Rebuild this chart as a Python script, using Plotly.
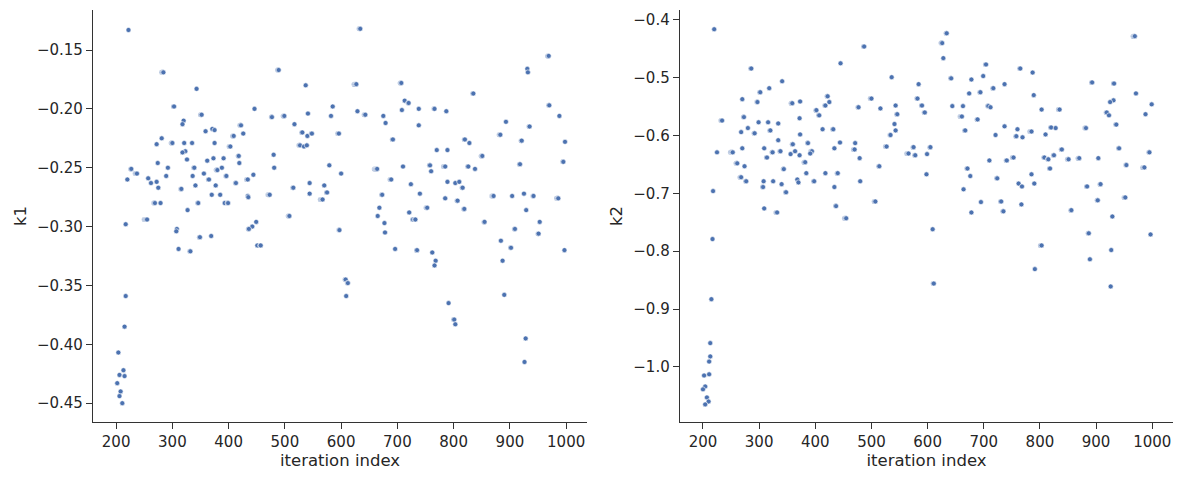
import plotly.graph_objects as go

# k1: (end iteration, value, run length)
k1_iter = [222,284,343,303,320,318,352,446,359,371,375,422,426,409,281,272,300,321,335,375,403,323,318,326,362,373,391,418,419,274,292,339,227,237,220,257,262,272,275,289,336,356,365,380,388,396,341,377,413,434,444,316,370,385,434,435,269,279,346,327,393,399,255,217,449,442,436,308,307,369,349,311,332,451,217,215,204,213,206,215,202,208,206,211,
           634,489,537,627,707,713,720,477,499,541,585,582,629,643,675,679,708,517,531,540,548,596,692,527,534,539,480,481,579,600,664,689,710,724,515,544,570,575,544,473,567,673,668,665,677,678,721,728,508,597,457,696,608,612,609,
           969,931,932,835,738,766,787,970,988,738,893,935,883,921,998,820,828,770,789,851,758,785,760,826,838,918,995,740,789,803,810,816,785,807,871,904,925,942,986,753,732,819,929,855,953,909,951,884,902,997,735,762,768,766,887,890,791,801,803,928,926]
k1_val = [-0.133,-0.169,-0.183,-0.198,-0.210,-0.213,-0.205,-0.200,-0.219,-0.217,-0.218,-0.214,-0.221,-0.223,-0.225,-0.230,-0.229,-0.229,-0.229,-0.229,-0.232,-0.236,-0.237,-0.243,-0.244,-0.242,-0.242,-0.240,-0.246,-0.246,-0.250,-0.250,-0.251,-0.255,-0.260,-0.259,-0.263,-0.262,-0.267,-0.257,-0.257,-0.255,-0.260,-0.252,-0.250,-0.257,-0.265,-0.265,-0.263,-0.260,-0.256,-0.268,-0.273,-0.273,-0.274,-0.275,-0.280,-0.280,-0.280,-0.286,-0.280,-0.280,-0.294,-0.298,-0.296,-0.300,-0.302,-0.302,-0.304,-0.308,-0.309,-0.319,-0.321,-0.316,-0.359,-0.385,-0.407,-0.422,-0.426,-0.427,-0.433,-0.440,-0.444,-0.450,
          -0.132,-0.167,-0.180,-0.179,-0.178,-0.193,-0.195,-0.207,-0.206,-0.204,-0.198,-0.206,-0.202,-0.205,-0.206,-0.212,-0.201,-0.213,-0.220,-0.223,-0.221,-0.221,-0.226,-0.231,-0.232,-0.231,-0.239,-0.250,-0.248,-0.255,-0.251,-0.260,-0.249,-0.264,-0.267,-0.263,-0.265,-0.271,-0.272,-0.273,-0.277,-0.273,-0.284,-0.291,-0.297,-0.305,-0.288,-0.294,-0.291,-0.303,-0.316,-0.319,-0.345,-0.348,-0.359,
          -0.155,-0.166,-0.169,-0.187,-0.200,-0.200,-0.202,-0.197,-0.206,-0.214,-0.211,-0.215,-0.222,-0.227,-0.228,-0.226,-0.229,-0.235,-0.235,-0.240,-0.248,-0.249,-0.253,-0.249,-0.251,-0.247,-0.245,-0.272,-0.262,-0.263,-0.262,-0.267,-0.276,-0.278,-0.274,-0.274,-0.272,-0.274,-0.276,-0.284,-0.294,-0.285,-0.286,-0.296,-0.296,-0.302,-0.306,-0.312,-0.318,-0.320,-0.320,-0.322,-0.329,-0.333,-0.329,-0.358,-0.365,-0.379,-0.383,-0.395,-0.415]
k1_run = [1,4,1,2,1,1,3,1,1,1,1,3,1,3,1,1,3,1,1,1,3,1,1,1,1,1,1,2,1,1,1,2,2,4,1,1,1,1,1,1,1,1,2,3,1,2,1,1,2,3,1,2,1,1,1,1,3,1,2,1,1,2,6,1,1,1,2,1,1,1,2,1,2,1,1,1,1,1,1,1,1,1,1,1,
          3,3,1,5,3,1,2,2,3,1,1,1,1,3,1,1,1,1,2,1,2,3,2,3,1,1,1,1,1,1,6,3,1,1,2,1,1,2,1,4,5,2,1,1,1,1,1,2,3,2,2,1,2,2,1,
          3,1,1,2,1,2,1,2,1,1,1,2,3,2,1,2,1,1,1,3,2,4,1,2,1,2,2,1,1,1,1,2,1,2,4,1,1,2,4,3,2,2,1,2,1,2,2,1,2,1,2,1,1,1,1,1,1,2,1,1,1]

k2_iter = [220,286,341,318,302,270,297,359,373,445,422,425,418,402,407,234,273,372,299,316,334,280,320,292,268,373,413,432,334,444,387,360,270,309,434,225,253,324,338,356,364,372,394,391,314,382,261,274,344,384,418,440,268,277,308,325,340,368,370,398,307,434,218,348,437,309,332,455,217,215,213,213,211,211,202,204,200,207,210,204,
           634,626,487,628,704,699,678,642,536,584,717,694,674,500,582,590,543,516,477,644,663,708,712,595,546,661,689,541,543,534,667,721,471,470,527,566,575,578,605,599,479,514,671,676,710,724,598,480,664,507,695,731,678,609,611,
           969,765,787,737,893,932,789,971,931,925,999,803,835,919,923,988,936,737,760,785,820,828,882,758,769,810,839,941,995,753,741,808,815,825,851,870,904,818,954,986,785,762,768,790,884,908,767,903,952,735,856,929,887,997,803,927,889,791,926]
k2_val = [-0.416,-0.484,-0.506,-0.518,-0.525,-0.537,-0.542,-0.544,-0.541,-0.475,-0.532,-0.542,-0.548,-0.556,-0.565,-0.574,-0.568,-0.570,-0.577,-0.577,-0.579,-0.587,-0.591,-0.596,-0.594,-0.598,-0.589,-0.589,-0.608,-0.612,-0.613,-0.615,-0.622,-0.622,-0.622,-0.629,-0.629,-0.629,-0.627,-0.632,-0.627,-0.634,-0.627,-0.631,-0.638,-0.646,-0.648,-0.653,-0.658,-0.665,-0.665,-0.665,-0.672,-0.679,-0.679,-0.679,-0.684,-0.676,-0.681,-0.679,-0.689,-0.689,-0.696,-0.698,-0.722,-0.726,-0.733,-0.743,-0.779,-0.883,-0.959,-0.982,-0.991,-1.013,-1.015,-1.034,-1.039,-1.053,-1.060,-1.065,
          -0.423,-0.440,-0.446,-0.466,-0.477,-0.497,-0.503,-0.501,-0.499,-0.511,-0.518,-0.525,-0.527,-0.536,-0.536,-0.548,-0.548,-0.553,-0.551,-0.549,-0.549,-0.549,-0.551,-0.560,-0.563,-0.567,-0.572,-0.580,-0.591,-0.599,-0.591,-0.599,-0.613,-0.624,-0.619,-0.631,-0.620,-0.634,-0.620,-0.632,-0.639,-0.653,-0.657,-0.670,-0.643,-0.674,-0.667,-0.679,-0.693,-0.714,-0.715,-0.714,-0.733,-0.762,-0.856,
          -0.428,-0.484,-0.491,-0.511,-0.508,-0.510,-0.530,-0.527,-0.539,-0.542,-0.546,-0.555,-0.555,-0.560,-0.565,-0.563,-0.581,-0.584,-0.589,-0.593,-0.586,-0.587,-0.587,-0.601,-0.603,-0.598,-0.624,-0.622,-0.629,-0.638,-0.643,-0.638,-0.641,-0.634,-0.641,-0.639,-0.639,-0.657,-0.651,-0.655,-0.667,-0.683,-0.688,-0.683,-0.688,-0.684,-0.719,-0.712,-0.707,-0.731,-0.729,-0.740,-0.769,-0.771,-0.790,-0.798,-0.814,-0.831,-0.861]
k2_run = [1,2,1,1,2,1,2,3,1,1,2,1,2,2,2,3,2,1,1,1,1,1,2,2,1,1,1,2,1,1,2,2,1,1,1,1,5,2,2,1,1,1,3,1,2,3,3,1,2,1,1,2,3,2,1,1,1,1,1,2,2,1,1,2,2,1,3,4,1,1,1,1,1,1,1,1,1,1,1,1,
          2,3,2,1,2,1,1,2,1,1,2,2,1,3,2,2,1,1,2,1,1,2,1,2,2,4,2,1,1,2,2,1,1,3,3,4,2,2,2,1,1,2,2,1,1,2,1,1,1,3,1,2,1,1,2,
          4,2,1,1,2,2,1,1,1,1,1,1,3,2,1,1,2,1,1,4,2,1,3,2,1,1,2,2,2,3,2,2,2,2,3,3,1,2,2,4,1,1,1,1,2,2,1,2,3,2,2,1,2,1,3,1,1,1,1]


def expand(ends, vals, runs):
    xs, ys = [], []
    for e, v, r in zip(ends, vals, runs):
        for i in range(r):
            xs.append(e - (r - 1 - i))
            ys.append(v)
    return xs, ys

C = "#4c72b0"
mk = dict(color=C, size=5, line=dict(color="white", width=0.6))

fig = go.Figure()
x1, y1 = expand(k1_iter, k1_val, k1_run)
x2, y2 = expand(k2_iter, k2_val, k2_run)
fig.add_trace(go.Scatter(x=x1, y=y1, mode="markers", marker=mk, xaxis="x", yaxis="y", showlegend=False))
fig.add_trace(go.Scatter(x=x2, y=y2, mode="markers", marker=mk, xaxis="x2", yaxis="y2", showlegend=False))

ax = dict(showgrid=False, zeroline=False, showline=True, linecolor="#333333", linewidth=1.4,
          ticks="outside", ticklen=6, tickwidth=1.4, tickcolor="#333333", automargin=False,
          tickfont=dict(size=15, color="#262626"), mirror=False)
tickx = [200, 300, 400, 500, 600, 700, 800, 900, 1000]
tf = dict(size=16.5, color="#262626")
fig.update_layout(
    width=1183, height=484, margin=dict(l=0, r=0, t=0, b=0),
    plot_bgcolor="white", paper_bgcolor="white",
    font=dict(family="DejaVu Sans", color="#262626"),
    xaxis=dict(ax, domain=[0.0719, 0.4894], range=[159, 1037], tickvals=tickx,
               title=dict(text="iteration index", font=tf, standoff=4), anchor="y"),
    yaxis=dict(ax, domain=[0.1446, 0.9959], range=[-0.466, -0.116],
               tickvals=[-0.45, -0.4, -0.35, -0.3, -0.25, -0.2, -0.15],
               ticktext=["−0.45", "−0.40", "−0.35", "−0.30", "−0.25", "−0.20", "−0.15"],
               title=dict(text="k1", font=tf, standoff=6), anchor="x"),
    xaxis2=dict(ax, domain=[0.5680, 0.9848], range=[159, 1037], tickvals=tickx,
                title=dict(text="iteration index", font=tf, standoff=4), anchor="y2"),
    yaxis2=dict(ax, domain=[0.1446, 0.9959], range=[-1.0955, -0.3827],
                tickvals=[-1.0, -0.9, -0.8, -0.7, -0.6, -0.5, -0.4],
                ticktext=["−1.0", "−0.9", "−0.8", "−0.7", "−0.6", "−0.5", "−0.4"],
                title=dict(text="k2", font=tf, standoff=6), anchor="x2"),
)
fig.write_html("out.html")
